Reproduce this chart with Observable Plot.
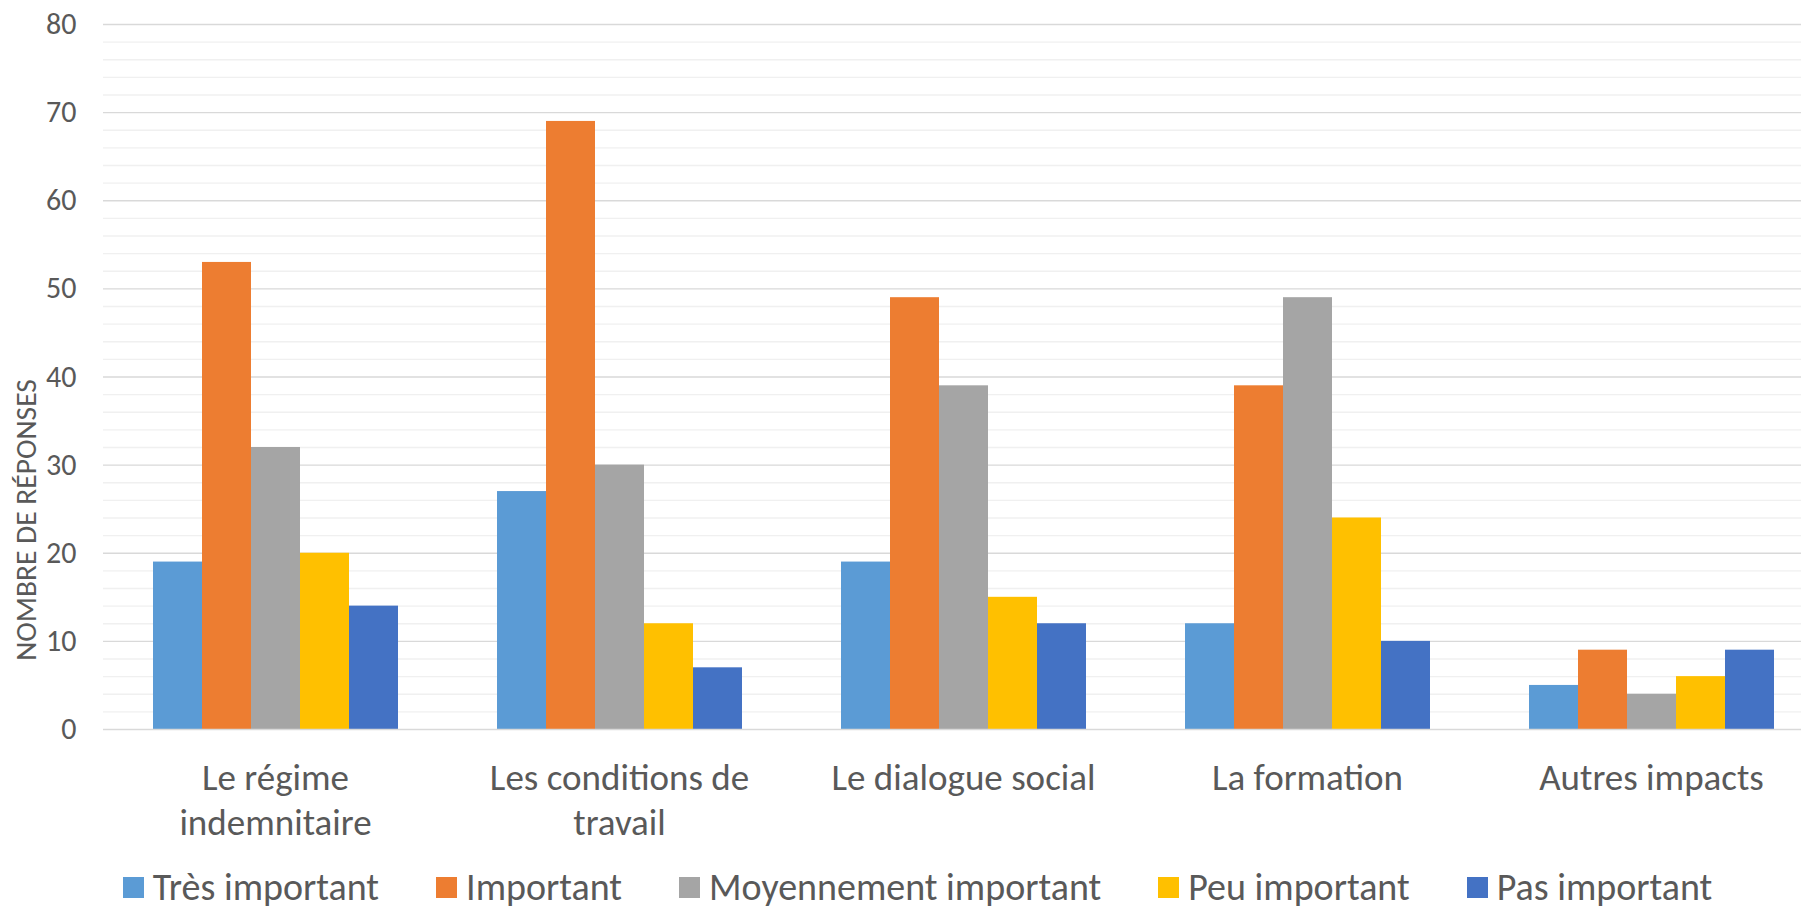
<!DOCTYPE html>
<html>
<head>
<meta charset="utf-8">
<script src="https://cdn.jsdelivr.net/npm/d3@7"></script>
<script src="https://cdn.jsdelivr.net/npm/@observablehq/plot@0.6"></script>
<style>
  html, body { margin: 0; padding: 0; background: #fff; overflow: hidden; }
  #wrap { position: relative; width: 1801px; height: 908px; font-family: Carlito, Calibri, Lato, sans-serif; color: #595959; }
  #ytitle { position: absolute; left: 26px; top: 520px; transform: translate(-50%, -50%) rotate(-90deg); font-size: 29.5px; line-height: 30px; white-space: nowrap; color: #595959; }
  #legend { position: absolute; left: 0; top: 872px; width: 1801px; height: 30px; display: flex; justify-content: center; align-items: center; gap: 57px; padding-left: 34px; box-sizing: border-box; font-size: 38px; line-height: 30px; color: #595959; }
  .item { display: flex; align-items: center; gap: 9px; white-space: nowrap; height: 30px; }
  .sw { width: 21px; height: 21px; display: inline-block; }
</style>
</head>
<body>
<div id="wrap">
  <div id="chart"></div>
  <div id="ytitle"></div>
  <div id="legend"></div>
</div>
<script>
const categories = ["Le régime indemnitaire", "Les conditions de travail", "Le dialogue social", "La formation", "Autres impacts"];
const categoryLabels = ["Le régime\nindemnitaire", "Les conditions de\ntravail", "Le dialogue social", "La formation", "Autres impacts"];
const series = ["Très important", "Important", "Moyennement important", "Peu important", "Pas important"];
const colors = ["#5B9BD5", "#ED7D31", "#A5A5A5", "#FFC000", "#4472C4"];

const tresImportant = [19, 27, 19, 12, 5];
const important = [53, 69, 49, 39, 9];
const moyennementImportant = [32, 30, 39, 49, 4];
const peuImportant = [20, 12, 15, 24, 6];
const pasImportant = [14, 7, 12, 10, 9];

const majorTicks = [0, 10, 20, 30, 40, 50, 60, 70, 80];
const minorTicks = [2, 4, 6, 8, 12, 14, 16, 18, 22, 24, 26, 28, 32, 34, 36, 38, 42, 44, 46, 48, 52, 54, 56, 58, 62, 64, 66, 68, 72, 74, 76, 78];
const yTitle = "NOMBRE DE RÉPONSES";

const seriesValues = [tresImportant, important, moyennementImportant, peuImportant, pasImportant];
const data = [];
categories.forEach((c, i) => {
  series.forEach((s, j) => {
    data.push({category: c, series: s, value: seriesValues[j][i]});
  });
});

const font = "Carlito, Calibri, Lato, sans-serif";

const chart = Plot.plot({
  width: 1801,
  height: 866,
  marginLeft: 103,
  marginRight: -22,
  marginTop: 24,
  marginBottom: 137,
  style: {fontFamily: font, color: "#595959", background: "white"},
  fx: {domain: categories, paddingInner: 0, paddingOuter: 0, label: null},
  x: {domain: series, paddingInner: 0, paddingOuter: 1, axis: null},
  y: {domain: [0, 80], axis: null},
  color: {domain: series, range: colors},
  marks: [
    Plot.ruleY(minorTicks, {stroke: "#f0f0f0", strokeWidth: 1.3}),
    Plot.ruleY(majorTicks.slice(1), {stroke: "#d9d9d9", strokeWidth: 1.3}),
    Plot.barY(data, {fx: "category", x: "series", y: "value", fill: "series", inset: 0}),
    Plot.ruleY([0], {stroke: "#d9d9d9", strokeWidth: 1.5}),
    Plot.axisY(majorTicks, {tickSize: 0, tickPadding: 27, fontSize: 30, label: null, fill: "#595959"}),
    Plot.axisFx({anchor: "bottom", tickSize: 0, tickPadding: 29, fontSize: 37, lineHeight: 1.21, label: null, fill: "#595959",
      tickFormat: d => categoryLabels[categories.indexOf(d)]})
  ]
});
document.getElementById("chart").appendChild(chart);

document.getElementById("ytitle").textContent = yTitle;

const legend = document.getElementById("legend");
series.forEach((s, i) => {
  const item = document.createElement("div");
  item.className = "item";
  const sw = document.createElement("span");
  sw.className = "sw";
  sw.style.background = colors[i];
  const t = document.createElement("span");
  t.textContent = s;
  item.appendChild(sw);
  item.appendChild(t);
  legend.appendChild(item);
});
</script>
</body>
</html>
